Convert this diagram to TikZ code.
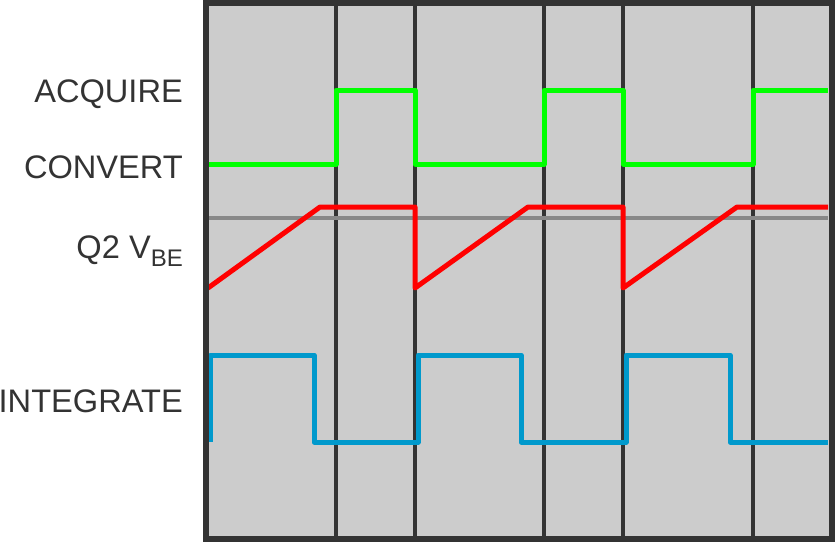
\documentclass[tikz,border=0pt]{standalone}
\usepackage{fontspec}
\setmainfont{Liberation Sans}

\definecolor{framegray}{HTML}{333333}
\definecolor{panelgray}{HTML}{CCCCCC}
\definecolor{refgray}{HTML}{888888}
\definecolor{acqgreen}{HTML}{00FF00}
\definecolor{vbered}{HTML}{FF0000}
\definecolor{intblue}{HTML}{0099CC}

\tikzset{
  signal/.style={line width=5pt, line join=round},
  divider/.style={line width=3.5pt, framegray},
  siglabel/.style={anchor=base east, inner sep=0pt, text=framegray, font=\fontsize{32.6}{38}\selectfont},
}

\begin{document}
\begin{tikzpicture}[x=1pt, y=-1pt]

    \useasboundingbox (0,0) rectangle (835,542);

    % Grey panel behind the traces
    \fill[panelgray] (205.5,3) rectangle (831.5,538.5);

    % Draw the time dividers
    \foreach \x in {336,415,544,623,753}
        \draw[divider] (\x,3) -- (\x,538.5);

    % Reference level for the VBE ramp
    \draw[line width=3.5pt, refgray] (208,218) -- (828,218);

    % ACQUIRE / CONVERT trace
    \draw[signal, acqgreen] (208,164) -- (336,164) -- (336,90) -- (415,90) -- (415,164)
        -- (544,164) -- (544,90) -- (623,90) -- (623,164) -- (753,164) -- (753,90) -- (828,90);

    % Q2 VBE trace
    \draw[signal, vbered] (208,288) -- (320,207) -- (415,207) -- (415,288) -- (528,207)
        -- (623,207) -- (623,288) -- (737,207) -- (828,207);

    % INTEGRATE trace
    \draw[signal, intblue] (210,442) -- (210,355) -- (314,355) -- (314,442) -- (418,442)
        -- (418,355) -- (521,355) -- (521,442) -- (626,442) -- (626,355) -- (730,355)
        -- (730,442) -- (828,442);

    % Outer frame
    \draw[line width=6pt, framegray] (205.5,3) rectangle (831.5,538.5);

    % Signal names
    \node[siglabel] (acquire) at (183,102) {ACQUIRE};
    \node[siglabel] (convert) at (183,178) {CONVERT};
    \node[siglabel] (vbe) at (183,258) {Q2 V\raisebox{-8pt}{\fontsize{24}{28}\selectfont BE}};
    \node[siglabel] (integrate) at (183,412) {INTEGRATE};

\end{tikzpicture}
\end{document}
